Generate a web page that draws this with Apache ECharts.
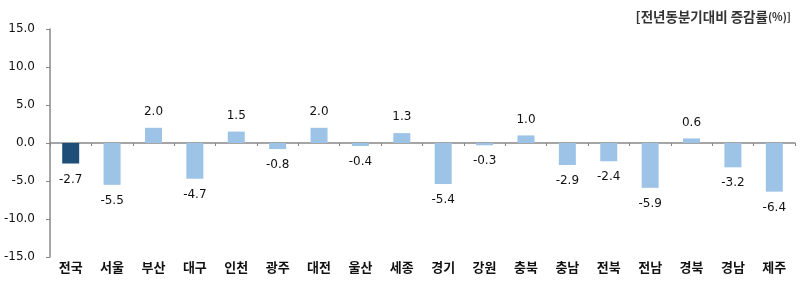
<!DOCTYPE html>
<html><head><meta charset="utf-8">
<script src="https://cdn.jsdelivr.net/npm/echarts@6/dist/echarts.min.js"></script>
<style>html,body{margin:0;padding:0;background:#fff}#c{width:800px;height:282px}</style>
</head><body><div id="c"></div>
<script>
const categories = ['전국','서울','부산','대구','인천','광주','대전','울산','세종','경기','강원','충북','충남','전북','전남','경북','경남','제주'];
const values = [-2.7,-5.5,2.0,-4.7,1.5,-0.8,2.0,-0.4,1.3,-5.4,-0.3,1.0,-2.9,-2.4,-5.9,0.6,-3.2,-6.4];
const yTicks = [-15,-10,-5,0,5,10,15];
const titleMain = '[전년동분기대비 증감률';
const titleUnit = '(%)]';

const chart = echarts.init(document.getElementById('c'));
chart.setOption({
  animation:false,
  title:{text:'{a|'+titleMain+'}{b|'+titleUnit+'}',right:4,top:5,
    textStyle:{rich:{
      a:{fontFamily:'Noto Sans CJK KR',fontSize:13.5,fontWeight:'bold',color:'#333'},
      b:{fontFamily:'Noto Sans CJK KR',fontSize:11,fontWeight:'bold',color:'#333'}}}},
  grid:{left:50,right:5,top:29,bottom:25},
  xAxis:[{
    type:'category',data:categories,
    axisLine:{onZero:true,lineStyle:{color:'#888',width:1.5}},
    axisTick:{show:true,length:3,lineStyle:{color:'#888'}},
    axisLabel:{show:false}
  },{
    type:'category',data:categories,position:'bottom',
    axisLine:{show:false},axisTick:{show:false},
    axisLabel:{fontFamily:'Noto Sans CJK KR',fontWeight:'bold',fontSize:13,color:'#111',margin:4}
  }],
  yAxis:{type:'value',min:yTicks[0],max:yTicks[yTicks.length-1],interval:5,
    axisLine:{show:true,lineStyle:{color:'#888',width:1.5}},
    axisTick:{show:true,length:4,lineStyle:{color:'#888'}},
    splitLine:{show:false},
    axisLabel:{formatter:v=>v.toFixed(1),fontFamily:'DejaVu Sans',fontSize:12,color:'#111',margin:15}
  },
  series:[{
    type:'bar',xAxisIndex:0,barWidth:17,
    data:values.map((v,i)=>({value:v,itemStyle:{color:i===0?'#1F4E79':'#9DC3E6'},
      label:{position:v>=0?'top':'bottom'}})),
    label:{show:true,formatter:p=>p.value.toFixed(1),fontFamily:'DejaVu Sans',fontSize:12,color:'#111',distance:10}
  }]
});
</script></body></html>
